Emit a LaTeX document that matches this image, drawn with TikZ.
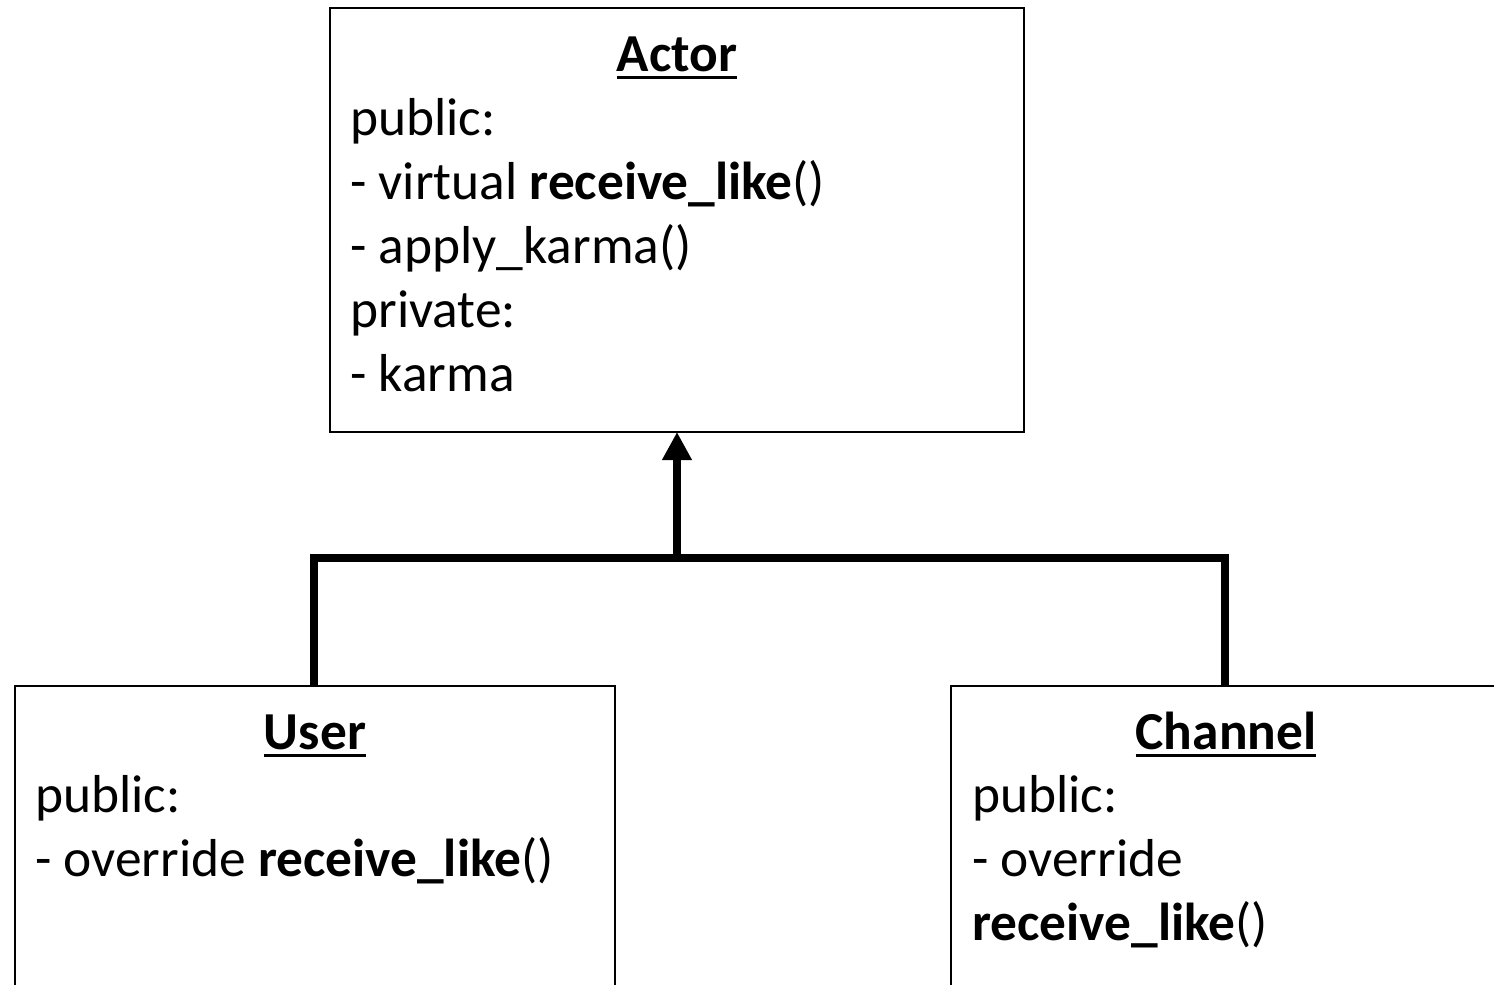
\documentclass[tikz,border=0pt]{standalone}
\usepackage{fontspec}
\setmainfont{Carlito}
\usetikzlibrary{arrows.meta}
\newcommand\myul[1]{\setbox0\hbox{#1}\rlap{\rule[-4.2pt]{\wd0}{1.5pt}}\box0}
\tikzset{
  classbox/.style={draw=black, line width=1pt},
  txt/.style={inner sep=0pt, anchor=base west, font=\fontsize{26.7}{32}\selectfont},
  ttl/.style={inner sep=0pt, anchor=base, font=\fontsize{26.7}{32}\selectfont\bfseries},
  inherit/.style={line width=4pt, -{Triangle[length=14pt,width=14pt]}},
  branch/.style={line width=4pt},
}
\begin{document}
\begin{tikzpicture}[x=0.5pt,y=-0.5pt]
\clip (0,0) rectangle (1494,985);
\fill[white] (0,0) rectangle (1494,985);
% boxes
\draw[classbox] (330,8) rectangle (1024,432);
\draw[classbox] (15,1010) -- (15,686) -- (615,686) -- (615,1010);
\draw[classbox] (951,1010) -- (951,686) -- (1510,686);
\coordinate (actorbot) at (677,432);
\coordinate (join) at (677,558);
\coordinate (ul) at (314,558);
\coordinate (cl) at (1225,558);
\coordinate (usertop) at (314,686);
\coordinate (chantop) at (1225,686);
% Actor
\node[ttl] (at) at (677,71) {\myul{Actor}};
\node[txt] (a1) at (350,135) {public:};
\node[txt] (a2) at (350,199) {- virtual \textbf{receive\_like}()};
\node[txt] (a3) at (350,263) {- apply\_karma()};
\node[txt] (a4) at (350,327) {private:};
\node[txt] (a5) at (350,391) {- karma};
% User
\node[ttl] (ut) at (315,749) {\myul{User}};
\node[txt] (u1) at (35,812) {public:};
\node[txt] (u2) at (35,876) {- override \textbf{receive\_like}()};
% Channel
\node[ttl] (ct) at (1226,749) {\myul{Channel}};
\node[txt] (c1) at (972,812) {public:};
\node[txt] (c2) at (972,876) {- override};
\node[txt] (c3) at (972,940) {\textbf{receive\_like}()};
% connectors
\draw[branch, line join=miter] (usertop) -- (ul) -- (cl) -- (chantop);
\draw[inherit] (join) -- (actorbot);
\end{tikzpicture}
\end{document}
